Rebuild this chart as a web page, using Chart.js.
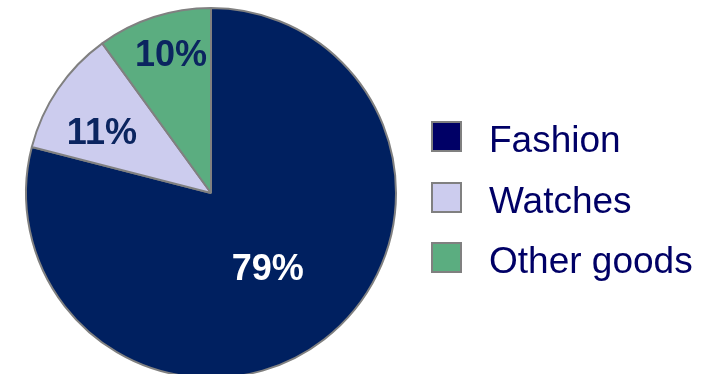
<!DOCTYPE html>
<html>
<head>
<meta charset="utf-8">
<script src="https://cdn.jsdelivr.net/npm/chart.js@4.4.1/dist/chart.umd.min.js"></script>
<style>
  html, body { margin: 0; padding: 0; width: 715px; height: 374px; overflow: hidden; background: #ffffff; }
  #wrap { position: absolute; left: 0; top: 0; width: 715px; height: 386px; }
  #legend { position: absolute; left: 0; top: 0; font-family: "Liberation Sans", Arial, sans-serif; }
  .row { position: absolute; left: 431px; width: 284px; height: 31px; }
  .box { position: absolute; left: 0; top: 0; width: 31px; height: 31px; box-sizing: border-box; border: 2px solid #808080; }
  .txt { position: absolute; left: 58px; top: 3px; font-size: 37px; line-height: 31px; color: #000066; white-space: nowrap; }
</style>
</head>
<body>
<div id="wrap"><canvas id="c" width="715" height="386"></canvas></div>
<div id="legend"></div>
<script>
const categories = ["Fashion", "Watches", "Other goods"];
const shares = [79, 11, 10];
const percentLabels = ["79%", "11%", "10%"];

const sliceColors = ["#002060", "#CCCCEE", "#5BAD80"];
const legendColors = ["#000066", "#CCCCEE", "#5BAD80"];
const labelColors = ["#ffffff", "#0B2560", "#0B2560"];
const labelPlacement = [{t: 0.5, r: 0.5}, {t: 0.39, r: 0.68}, {t: 0.56, r: 0.79}];

const pieLabels = {
  id: 'pieLabels',
  afterDatasetsDraw(chart) {
    const ctx = chart.ctx;
    const meta = chart.getDatasetMeta(0);
    ctx.save();
    ctx.font = 'bold 36px "Liberation Sans", Arial, sans-serif';
    ctx.textAlign = 'center';
    ctx.textBaseline = 'middle';
    meta.data.forEach((arc, i) => {
      const p = arc.getProps(['x', 'y', 'startAngle', 'endAngle', 'outerRadius'], true);
      const pl = labelPlacement[i];
      const a = p.startAngle + (p.endAngle - p.startAngle) * pl.t;
      const r = p.outerRadius * pl.r;
      ctx.fillStyle = labelColors[i];
      ctx.fillText(percentLabels[i], p.x + Math.cos(a) * r, p.y + Math.sin(a) * r + 4);
    });
    ctx.restore();
  }
};

new Chart(document.getElementById('c'), {
  type: 'pie',
  data: {
    labels: categories,
    datasets: [{
      data: shares,
      backgroundColor: sliceColors,
      borderColor: '#808080',
      borderWidth: 2,
      radius: 185
    }]
  },
  options: {
    responsive: false,
    animation: false,
    layout: { padding: { left: 0, right: 293, top: 0, bottom: 0 } },
    plugins: {
      legend: { display: false },
      tooltip: { enabled: false }
    }
  },
  plugins: [pieLabels]
});

const legend = document.getElementById('legend');
const rowTops = [121, 181.5, 242];
categories.forEach((name, i) => {
  const row = document.createElement('div');
  row.className = 'row';
  row.style.top = rowTops[i] + 'px';
  const box = document.createElement('div');
  box.className = 'box';
  box.style.background = legendColors[i];
  const txt = document.createElement('div');
  txt.className = 'txt';
  txt.textContent = name;
  row.appendChild(box);
  row.appendChild(txt);
  legend.appendChild(row);
});
</script>
</body>
</html>
